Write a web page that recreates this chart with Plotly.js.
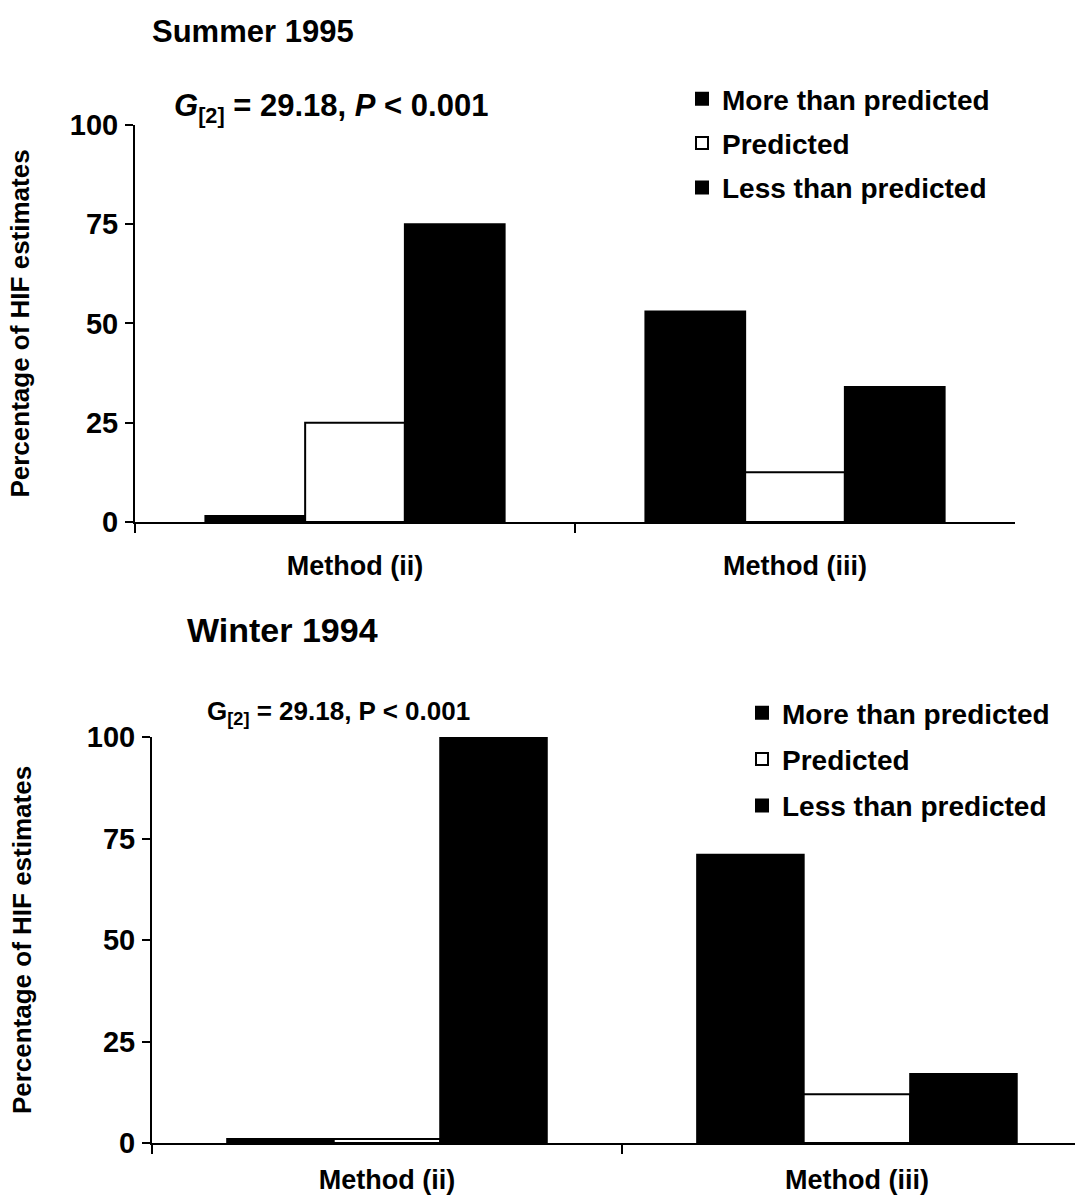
<!DOCTYPE html>
<html><head><meta charset="utf-8">
<script src="https://cdn.plot.ly/plotly-3.0.1.min.js"></script>
<style>html,body{margin:0;padding:0;overflow:hidden;background:#fff}</style>
</head><body>
<div id="chart" style="width:1075px;height:1199px"></div>
<script>
const categories = ["Method (ii)", "Method (iii)"];
const seriesNames = ["More than predicted", "Predicted", "Less than predicted"];
const summer1995 = {
  more: [1.5, 53],
  predicted: [25, 12.5],
  less: [75, 34]
};
const winter1994 = {
  more: [1, 71],
  predicted: [1, 12],
  less: [100, 17]
};
const yTicks = [0, 25, 50, 75, 100];

const FONT = "Liberation Sans, Arial, sans-serif";
const fills = ["#000000", "#ffffff", "#000000"];
const keys = ["more", "predicted", "less"];

function makeTraces(data, xa, ya, legendName) {
  return keys.map((k, i) => ({
    type: "bar",
    name: seriesNames[i],
    x: categories,
    y: data[k],
    xaxis: xa, yaxis: ya,
    legend: legendName,
    legendgroup: legendName + k,
    marker: {color: fills[i], line: {color: "#000", width: 2}},
    hoverinfo: "skip"
  }));
}

const traces = [
  ...makeTraces(summer1995, "x", "y", "legend"),
  ...makeTraces(winter1994, "x2", "y2", "legend2")
];

const tickFont = {family: FONT, size: 29, color: "#000", weight: "bold"};
const catFont = {family: FONT, size: 27, color: "#000", weight: "bold"};
const legFont = {family: FONT, size: 28, color: "#000", weight: "bold"};

function yax(domain, anchor, titleStandoff) {
  return {
    domain: domain, anchor: anchor, range: [0, 100], tickvals: yTicks, ticktext: yTicks.map(String),
    showgrid: false, zeroline: false, showline: true, linecolor: "#000", linewidth: 2,
    ticks: "outside", ticklen: 8, tickwidth: 2, tickcolor: "#000",
    tickfont: tickFont, ticklabelstandoff: 1, fixedrange: true,
    title: {text: "Percentage of HIF estimates", font: {family: FONT, size: 26, color: "#000", weight: "bold"}, standoff: titleStandoff}
  };
}
function xax(domain, range, anchor, standoff) {
  return {
    domain: domain, range: range, anchor: anchor, type: "category",
    showgrid: false, zeroline: false, showline: true, linecolor: "#000", linewidth: 2,
    ticks: "outside", tickson: "boundaries", ticklen: 9, tickwidth: 2, tickcolor: "#000",
    tickfont: catFont, ticklabelstandoff: standoff, fixedrange: true
  };
}

const layout = {
  width: 1075, height: 1199,
  margin: {l: 0, r: 0, t: 0, b: 0},
  paper_bgcolor: "#fff", plot_bgcolor: "rgba(0,0,0,0)",
  barmode: "group", bargap: 0.32, bargroupgap: 0,
  showlegend: true,
  xaxis: xax([0.1256, 0.9442], [-0.5, 1.5], "y", 19),
  yaxis: yax([0.5647, 0.8957], "x", 33),
  xaxis2: xax([0.1414, 1.0], [-0.5, 1.464], "y2", 12),
  yaxis2: yax([0.0467, 0.3853], "x2", 48),
  legend: {
    x: 682/1075, y: 1 - 74/1199, xanchor: "left", yanchor: "top",
    font: legFont, traceorder: "grouped", tracegroupgap: 5,
    bgcolor: "rgba(0,0,0,0)", borderwidth: 0, itemwidth: 30
  },
  legend2: {
    x: 742/1075, y: 1 - 688/1199, xanchor: "left", yanchor: "top",
    font: legFont, traceorder: "grouped", tracegroupgap: 7,
    bgcolor: "rgba(0,0,0,0)", borderwidth: 0, itemwidth: 30
  },
  annotations: [
    {text: "Summer 1995", xref: "paper", yref: "paper", x: 150/1075, y: 1 - 32/1199,
     xanchor: "left", yanchor: "middle", showarrow: false,
     font: {family: FONT, size: 31, color: "#000", weight: "bold"}},
    {text: "Winter 1994", xref: "paper", yref: "paper", x: 185/1075, y: 1 - 630/1199,
     xanchor: "left", yanchor: "middle", showarrow: false,
     font: {family: FONT, size: 34, color: "#000", weight: "bold"}},
    {text: "<i>G</i><sub>[2]</sub> = 29.18, <i>P</i> &lt; 0.001", xref: "paper", yref: "paper",
     x: 172/1075, y: 1 - 108/1199, xanchor: "left", yanchor: "middle", showarrow: false,
     font: {family: FONT, size: 31, color: "#000", weight: "bold"}},
    {text: "G<sub>[2]</sub> = 29.18, P &lt; 0.001", xref: "paper", yref: "paper",
     x: 205/1075, y: 1 - 712/1199, xanchor: "left", yanchor: "middle", showarrow: false,
     font: {family: FONT, size: 26, color: "#000", weight: "bold"}}
  ]
};

Plotly.newPlot("chart", traces, layout, {staticPlot: true, displayModeBar: false});
</script>
</body></html>
